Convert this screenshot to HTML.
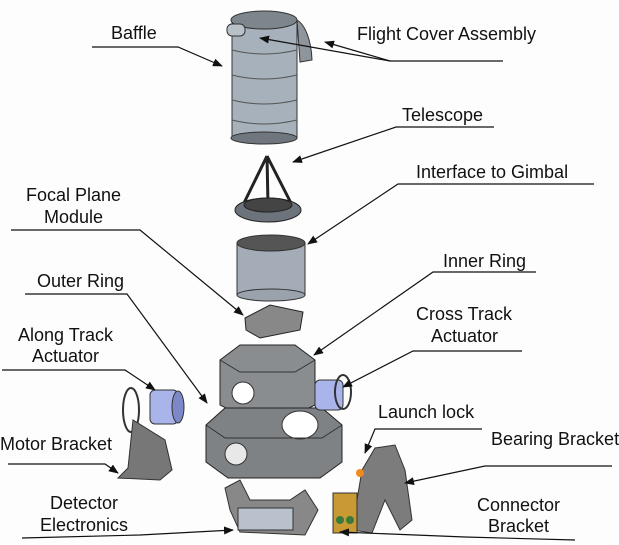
<!DOCTYPE html><html><head><style>body{margin:0;background:#fff}svg{display:block}text{font-family:"Liberation Sans",sans-serif;font-size:18px;fill:#111}</style></head><body>
<svg width="619" height="545" viewBox="0 0 619 545" xmlns="http://www.w3.org/2000/svg">
<defs><marker id="a" markerWidth="10" markerHeight="8" refX="9" refY="4" orient="auto" markerUnits="userSpaceOnUse"><path d="M0,0 L10,4 L0,8 Z" fill="#111"/></marker></defs>
<rect width="619" height="545" fill="#fdfdfd"/>
<!-- baffle -->
<path d="M297,20 A20,45 0 0 1 312,60 L300,62 Z" fill="#8f959c" stroke="#333"/>
<rect x="232" y="20" width="65" height="118" fill="#a7b1bb" stroke="#333"/>
<ellipse cx="264" cy="20" rx="33" ry="9" fill="#7d858d" stroke="#333"/>
<ellipse cx="264" cy="138" rx="33" ry="6" fill="#6f767d" stroke="#333"/>
<g stroke="#555" fill="none"><path d="M232,50 Q264,58 297,50"/><path d="M232,75 Q264,83 297,75"/><path d="M232,100 Q264,108 297,100"/><path d="M232,120 Q264,128 297,120"/></g>
<rect x="227" y="24" width="18" height="12" rx="5" fill="#b9c1c8" stroke="#333"/>
<!-- telescope -->
<path d="M267,156 L243,205 M267,156 L292,205 M267,156 L268,205" stroke="#222" stroke-width="3"/>
<ellipse cx="268" cy="210" rx="33" ry="12" fill="#6d737a" stroke="#222"/>
<ellipse cx="268" cy="205" rx="24" ry="7" fill="#444" stroke="#222"/>
<!-- gimbal interface -->
<rect x="237" y="243" width="68" height="52" fill="#a4adb7" stroke="#333"/>
<ellipse cx="271" cy="243" rx="34" ry="8" fill="#555" stroke="#333"/>
<ellipse cx="271" cy="295" rx="34" ry="6" fill="#9aa3ac" stroke="#333"/>
<!-- focal plane -->
<path d="M245,318 L270,305 L303,312 L300,330 L260,338 L246,330 Z" fill="#888" stroke="#222"/>
<!-- inner ring -->
<path d="M220,360 L240,345 L295,345 L315,360 L315,405 L295,415 L240,415 L220,405 Z" fill="#8a8d90" stroke="#222"/>
<path d="M220,360 L240,372 L295,372 L315,360" fill="none" stroke="#333"/>
<circle cx="243" cy="393" r="11" fill="#fff" stroke="#333"/>
<!-- outer ring -->
<path d="M206,425 L225,408 L322,408 L342,425 L342,462 L320,478 L228,478 L206,462 Z" fill="#7f8285" stroke="#222"/>
<ellipse cx="300" cy="425" rx="18" ry="14" fill="#fff" stroke="#333"/>
<circle cx="236" cy="454" r="11" fill="#e8e8e8" stroke="#333"/>
<path d="M206,425 L225,438 L322,438 L342,425" fill="none" stroke="#333"/>
<!-- along track actuator -->
<ellipse cx="131" cy="410" rx="8" ry="22" fill="none" stroke="#333" stroke-width="2"/>
<rect x="150" y="390" width="28" height="34" rx="5" fill="#a9b4ea" stroke="#333"/>
<ellipse cx="178" cy="407" rx="6" ry="16" fill="#7d88c8" stroke="#333"/>
<!-- motor bracket -->
<path d="M128,468 L133,420 L165,440 L172,470 L160,480 L118,478 Z" fill="#777" stroke="#333"/>
<!-- cross track actuator -->
<rect x="315" y="380" width="28" height="30" rx="5" fill="#a9b4ea" stroke="#333"/>
<ellipse cx="343" cy="392" rx="8" ry="17" fill="none" stroke="#333" stroke-width="2"/>
<!-- bearing bracket -->
<path d="M352,530 L362,470 L375,448 L395,445 L405,470 L412,520 L400,530 L385,500 L372,533 Z" fill="#7c7c7c" stroke="#333"/>
<circle cx="360" cy="473" r="4" fill="#f08a1c"/>
<!-- connector bracket -->
<rect x="333" y="493" width="24" height="40" fill="#c79a33" stroke="#333"/>
<circle cx="340" cy="520" r="4" fill="#3a7a3a"/><circle cx="350" cy="520" r="4" fill="#3a7a3a"/>
<!-- detector electronics -->
<path d="M225,488 L240,480 L250,500 L290,500 L305,490 L318,510 L305,535 L240,532 L230,510 Z" fill="#888" stroke="#333"/>
<rect x="238" y="508" width="55" height="22" fill="#b9c2cc" stroke="#333"/>
<!-- leaders -->
<g stroke="#111" stroke-width="1.2" fill="none">
<path d="M92,47 L178,47 L222,66" marker-end="url(#a)"/>
<path d="M503,61 L390,61 L260,38" marker-end="url(#a)"/>
<path d="M390,61 L325,42" marker-end="url(#a)"/>
<path d="M494,127 L396,127 L293,162" marker-end="url(#a)"/>
<path d="M594,184 L398,184 L308,244" marker-end="url(#a)"/>
<path d="M11,230 L140,230 L243,315" marker-end="url(#a)"/>
<path d="M536,272 L433,272 L314,355" marker-end="url(#a)"/>
<path d="M25,294 L127,294 L207,403" marker-end="url(#a)"/>
<path d="M522,351 L413,351 L343,387" marker-end="url(#a)"/>
<path d="M2,370 L125,370 L155,390" marker-end="url(#a)"/>
<path d="M8,464 L105,464 L118,473" marker-end="url(#a)"/>
<path d="M482,429 L375,429 L365,453" marker-end="url(#a)"/>
<path d="M612,466 L485,466 L405,483" marker-end="url(#a)"/>
<path d="M22,538 L140,535 L233,530" marker-end="url(#a)"/>
<path d="M575,540 L465,537 L340,532" marker-end="url(#a)"/>
</g>
<text x="111" y="39">Baffle</text>
<text x="357" y="40">Flight Cover Assembly</text>
<text x="402" y="121">Telescope</text>
<text x="416" y="178">Interface to Gimbal</text>
<text x="26" y="201">Focal Plane</text>
<text x="44" y="223">Module</text>
<text x="443" y="267">Inner Ring</text>
<text x="37" y="287">Outer Ring</text>
<text x="416" y="320">Cross Track</text>
<text x="431" y="342">Actuator</text>
<text x="18" y="341">Along Track</text>
<text x="32" y="362">Actuator</text>
<text x="378" y="418">Launch lock</text>
<text x="0" y="450">Motor Bracket</text>
<text x="491" y="445">Bearing Bracket</text>
<text x="50" y="509">Detector</text>
<text x="40" y="531">Electronics</text>
<text x="477" y="511">Connector</text>
<text x="488" y="532">Bracket</text>
</svg></body></html>
